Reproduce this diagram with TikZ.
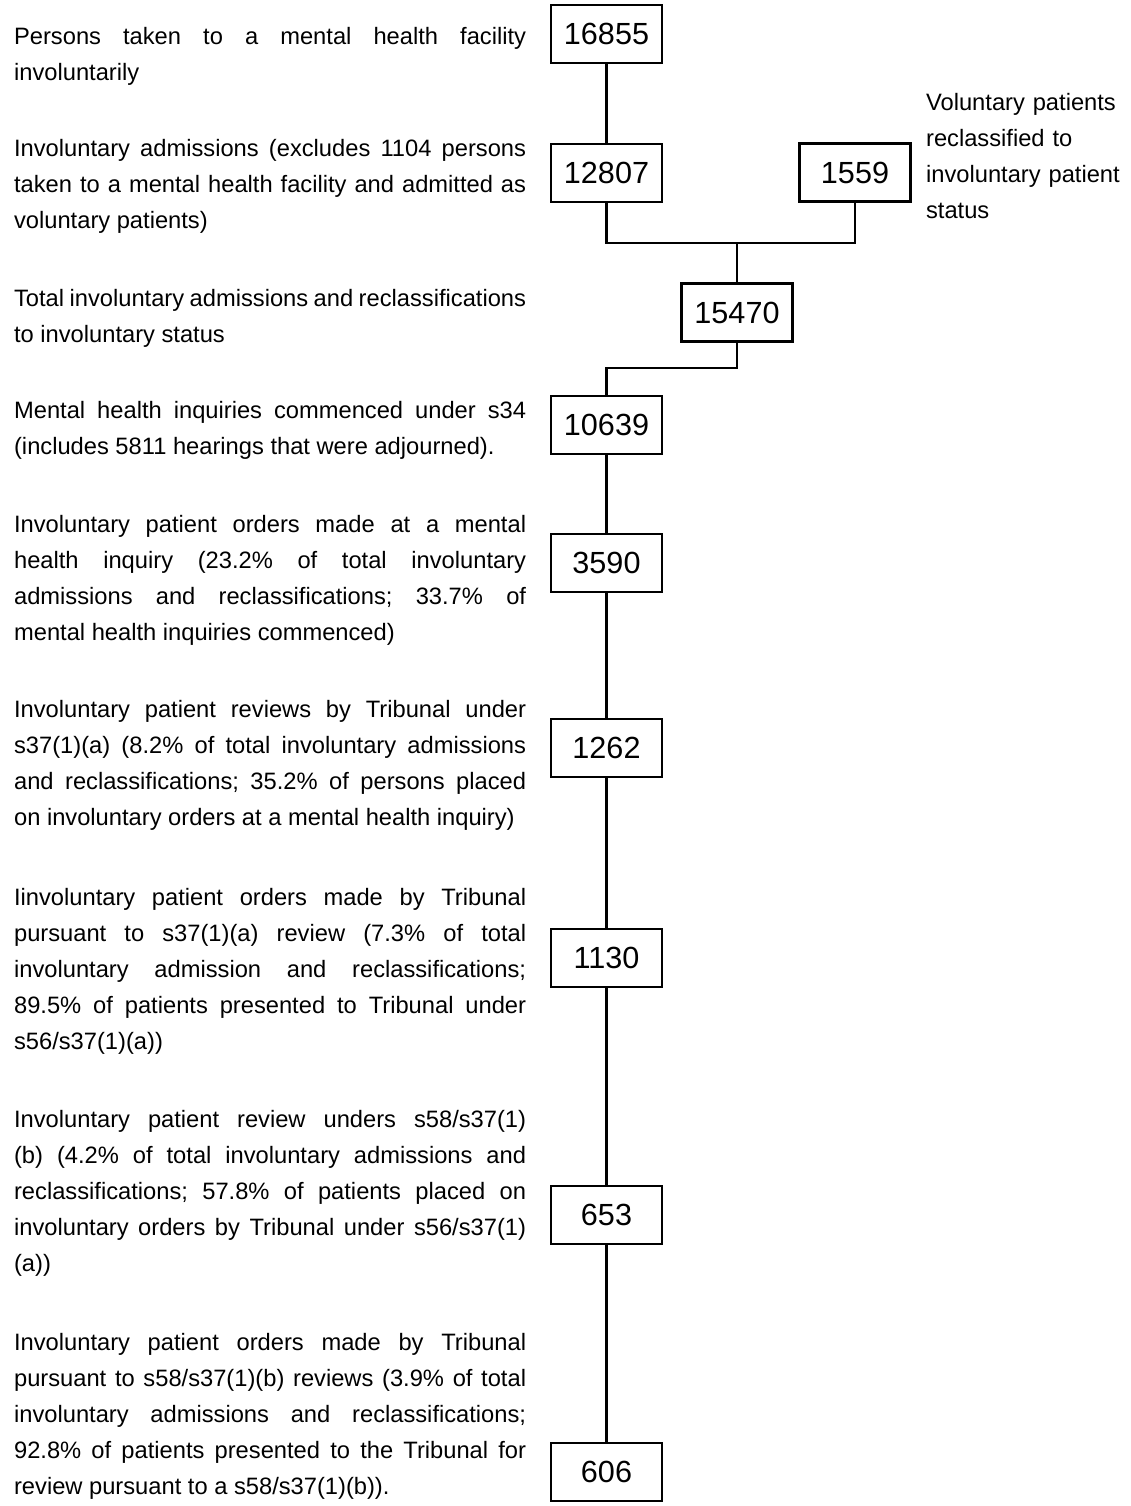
\documentclass[tikz,border=0pt]{standalone}
\usepackage{fontspec}
\setmainfont{Liberation Sans}

\begin{document}
\begin{tikzpicture}[x=1pt, y=-1pt, line width=2.2pt]
  \tikzstyle{numbox}=[draw, rectangle, minimum width=111pt, minimum height=58pt,
    inner sep=0pt, font=\fontsize{30.6}{36}\selectfont]
  \tikzstyle{note}=[anchor=base west, inner sep=0pt, text width=512pt, align=justify,
    font=\fontsize{23.7}{36}\selectfont,
    execute at begin node={\frenchspacing\tolerance=10000\hyphenpenalty=10000}]
  \useasboundingbox (0,0) rectangle (1131,1506);

  % number boxes
  \node[numbox] (n16855) at (606.5,34)  {16855};
  \node[numbox] (n12807) at (606.5,173) {12807};
  \node[numbox] (n1559)  at (855,172.5) {1559};
  \node[numbox] (n15470) at (737,312.5) {15470};
  \node[numbox] (n10639) at (606.5,425) {10639};
  \node[numbox] (n3590)  at (606.5,563) {3590};
  \node[numbox] (n1262)  at (606.5,748) {1262};
  \node[numbox] (n1130)  at (606.5,958) {1130};
  \node[numbox] (n653)   at (606.5,1215) {653};
  \node[numbox] (n606)   at (606.5,1472) {606};

  % descriptions
  \node[note] (d1) at (13,45) {Persons taken to a mental health facility \linebreak
    involuntarily};
  \node[note] (d2) at (13,157) {Involuntary admissions (excludes 1104 persons \linebreak
    taken to a mental health facility and admitted as \linebreak voluntary patients)};
  \node[note] (d3) at (13,306) {Total involuntary admissions and reclassifications \linebreak
    to involuntary status};
  \node[note] (d4) at (13,418) {Mental health inquiries commenced under s34 \linebreak
    (includes 5811 hearings that were adjourned).};
  \node[note] (d5) at (13,532) {Involuntary patient orders made at a mental \linebreak
    health inquiry (23.2\% of total involuntary \linebreak
    admissions and reclassifications; 33.7\% of \linebreak
    mental health inquiries commenced)};
  \node[note] (d6) at (13,717) {Involuntary patient reviews by Tribunal under \linebreak
    s37(1)(a) (8.2\% of total involuntary admissions \linebreak
    and reclassifications; 35.2\% of persons placed \linebreak
    on involuntary orders at a mental health inquiry)};
  \node[note] (d7) at (13,905) {Iinvoluntary patient orders made by Tribunal \linebreak
    pursuant to s37(1)(a) review (7.3\% of total \linebreak
    involuntary admission and reclassifications; \linebreak
    89.5\% of patients presented to Tribunal under \linebreak
    s56/s37(1)(a))};
  \node[note] (d8) at (13,1127) {Involuntary patient review unders s58/s37(1)\linebreak
    (b) (4.2\% of total involuntary admissions and \linebreak
    reclassifications; 57.8\% of patients placed on \linebreak
    involuntary orders by Tribunal under s56/s37(1)\linebreak
    (a))};
  \node[note] (d9) at (13,1350) {Involuntary patient orders made by Tribunal \linebreak
    pursuant to s58/s37(1)(b) reviews (3.9\% of total \linebreak
    involuntary admissions and reclassifications; \linebreak
    92.8\% of patients presented to the Tribunal for \linebreak
    review pursuant to a s58/s37(1)(b)).};
  \node[note, text width=206pt, align=left] (dr) at (925,111) {Voluntary patients\\
    reclassified to\\ involuntary patient\\ status};

  % connectors
  \coordinate (j1) at (737,243);
  \coordinate (j2) at (n10639.north |- 0,368);
  \draw (n16855) -- (n12807);
  \draw (n12807.south) |- (j1) -| (n1559.south);
  \draw (j1) -- (n15470.north);
  \draw (n15470.south) |- (j2) -- (n10639.north);
  \foreach \a/\b in {n10639/n3590, n3590/n1262, n1262/n1130, n1130/n653, n653/n606}
    \draw (\a) -- (\b);
\end{tikzpicture}
\end{document}
